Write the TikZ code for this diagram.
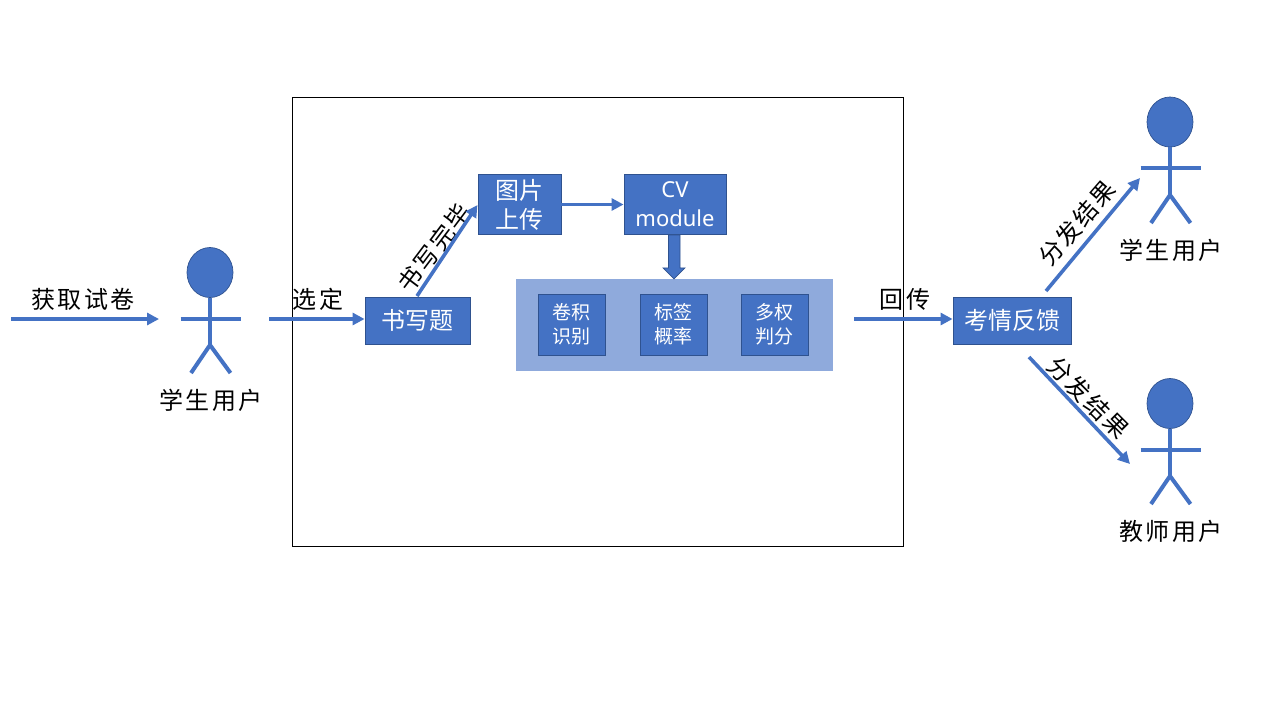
\documentclass[tikz,border=0pt]{standalone}
\usepackage{fontspec}
\usetikzlibrary{arrows.meta,calc}
\setmainfont{Noto Sans}
\newfontfamily\cjk{Noto Sans CJK SC}
\newfontfamily\cjkwide[LetterSpace=10]{Noto Sans CJK SC}
\definecolor{blu}{HTML}{4472C4}
\definecolor{edgeblu}{HTML}{2F528F}
\definecolor{lightblu}{HTML}{8FAADC}
\tikzset{
  x=1pt,y=-1pt,
  bluebox/.style={draw=edgeblu,line width=0.9pt,fill=blu,text=white,inner sep=0pt,align=center,font=\fontsize{24}{29}\selectfont\cjk},
  smallbox/.style={bluebox,minimum width=67pt,minimum height=61pt,font=\fontsize{19}{23.5}\selectfont\cjk},
  conn/.style={blu,line width=3.6pt,-{Triangle[length=12pt,width=12pt]}},
  limb/.style={blu,line width=4pt},
  lbl/.style={inner sep=0pt,font=\fontsize{24}{27}\selectfont\cjkwide},
}
\newcommand{\stick}[5]{% name, x, head y, arm y, joint y ; legs end at joint + 28
  \draw[edgeblu,line width=0.7pt,fill=blu] (#2,#3) ellipse [x radius=23,y radius=25];
  \node[inner sep=0pt,minimum size=0pt] (#1top) at (#2,#3+25) {};
  \coordinate (#1joint) at (#2,#5);
  \coordinate (#1arml) at (#2-29.5,#4);
  \coordinate (#1armr) at (#2+30.5,#4);
  \coordinate (#1legl) at (#2-19,#5+28);
  \coordinate (#1legr) at (#2+20.5,#5+28);
  \draw[limb] (#1top.center) -- (#1joint);
  \draw[limb] (#1arml) -- (#1armr);
  \draw[limb] (#1legl) -- (#1joint) -- (#1legr);
}
\begin{document}
\begin{tikzpicture}
\useasboundingbox (0,0) rectangle (1280,716);
\fill[white] (0,0) rectangle (1280,716);

\node[draw=black,line width=0.9pt,minimum width=611pt,minimum height=449pt,inner sep=0pt] (frame) at (597.5,322) {};
\node[fill=lightblu,minimum width=317pt,minimum height=92pt,inner sep=0pt] (model) at (674.5,325) {};

\node[bluebox,minimum width=105pt,minimum height=47pt] (write) at (417.5,320.5) {书写题};
\node[bluebox,minimum width=83pt,minimum height=60pt] (upload) at (519.5,204.5) {图片\\上传};
\node[bluebox,minimum width=102pt,minimum height=60pt,font=\fontsize{22}{29}\selectfont] (cv) at (675,204.5) {CV\\module};
\node[smallbox] (conv) at (571.5,324.5) {卷积\\识别};
\node[smallbox] (tag) at (673.5,324.5) {标签\\概率};
\node[smallbox] (multi) at (774.5,324.5) {多权\\判分};
\node[bluebox,minimum width=118pt,minimum height=47pt] (feedback) at (1012,320.5) {考情反馈};

\stick{sa}{210}{272.5}{319}{345}
\stick{sb}{1170}{122}{168}{195}
\stick{tc}{1170}{403.5}{450}{476}

\node[lbl] (la) at (83,299) {获取试卷};
\node[lbl] (lb) at (318,299) {选定};
\node[lbl] (lc) at (905,299) {回传};
\node[lbl] (ld) at (211,400) {学生用户};
\node[lbl] (le) at (1171,250) {学生用户};
\node[lbl] (lf) at (1171,531) {教师用户};
\node[lbl,rotate=53] (lg) at (434,248) {书写完毕};
\node[lbl,rotate=49] (lh) at (1077,223) {分发结果};
\node[lbl,rotate=-45] (li) at (1088,398) {分发结果};

\coordinate (s1) at (11,319);
\coordinate (e1) at (159,319);
\coordinate (s2) at (269,319);
\coordinate (s3) at (854,319);
\coordinate (s4) at (1046,291);
\coordinate (e4) at (1140,178);
\coordinate (s5) at (1029,357);
\coordinate (e5) at (1130,464);
\coordinate (s6) at (417,296);
\coordinate (e6) at (477.5,205);
\draw[conn] (s1) -- (e1);
\draw[conn] (s2) -- (s2 -| write.west);
\draw[conn] (s3) -- (s3 -| feedback.west);
\draw[conn] (s4) -- (e4);
\draw[conn] (s5) -- (e5);
\draw[conn] (s6) -- (e6);
\draw[conn] (upload.east) -- (cv.west);
\draw[edgeblu,line width=0.7pt,fill=blu]
  ([xshift=-6.5pt]cv.south) -- ([xshift=-6.5pt,yshift=-33pt]cv.south)
  -- ([xshift=-12pt,yshift=-33pt]cv.south) -- ([xshift=-1pt]cv.south |- model.north)
  -- ([xshift=10pt,yshift=-33pt]cv.south) -- ([xshift=5pt,yshift=-33pt]cv.south)
  -- ([xshift=5pt]cv.south) -- cycle;
\end{tikzpicture}
\end{document}
